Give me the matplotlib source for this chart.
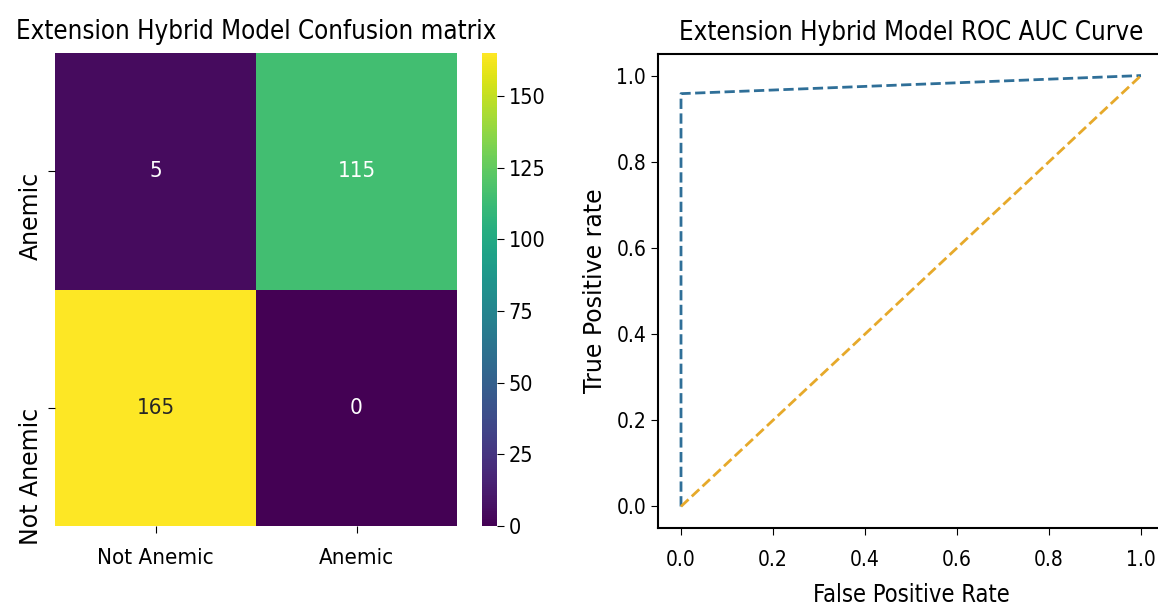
import numpy as np
import matplotlib
matplotlib.use("Agg")
import matplotlib.pyplot as plt
import seaborn as sns

# ---- data ----
class_labels = ["Not Anemic", "Anemic"]
row_labels = ["Anemic", "Not Anemic"]
cm_row_anemic = [5, 115]
cm_row_not_anemic = [165, 0]
cbar_ticks = [0, 25, 50, 75, 100, 125, 150]
fpr = [0.0, 0.0, 1.0]
tpr = [0.0, 0.958, 1.0]
diag_x = [0.0, 1.0]
diag_y = [0.0, 1.0]
axis_ticks = [0.0, 0.2, 0.4, 0.6, 0.8, 1.0]

plt.rcParams['font.family'] = ['DejaVu Sans']
plt.rcParams['font.stretch'] = 'condensed'

W, H = 1158, 616
fig = plt.figure(figsize=(W / 100, H / 100), dpi=100)

ax1 = fig.add_axes([55 / W, 90 / H, 402 / W, 473 / H])
cax = fig.add_axes([482 / W, 90 / H, 15 / W, 473 / H])
ax2 = fig.add_axes([658 / W, 88 / H, 506 / W, 474 / H])

cm = np.array([cm_row_anemic, cm_row_not_anemic])
sns.heatmap(cm, annot=True, fmt='d', cmap='viridis', ax=ax1, cbar_ax=cax,
            xticklabels=class_labels, yticklabels=row_labels,
            annot_kws={'fontsize': 16, 'fontstretch': 'condensed'})
ax1.set_title("Extension Hybrid Model Confusion matrix", fontsize=18.5, pad=10)
ax1.tick_params(axis='x', labelsize=16, length=5, pad=11)
ax1.tick_params(axis='y', length=5)
for t in ax1.get_yticklabels():
    t.set_rotation(90)
    t.set_va('top')
    t.set_fontsize(17)
    t.set_fontstretch('normal')
cax.set_yticks(cbar_ticks)
cax.tick_params(labelsize=15.5, length=5)

ax2.plot(fpr, tpr, linestyle='--', color='#2f6f98', lw=2)
ax2.plot(diag_x, diag_y, linestyle='--', color='#e6a92a', lw=2)
ax2.set_xticks(axis_ticks)
ax2.set_yticks(axis_ticks)
ax2.set_xlim(-0.05, 1.05)
ax2.set_ylim(-0.05, 1.05)
ax2.tick_params(axis='both', labelsize=15, length=5)
ax2.tick_params(axis='x', pad=11)
ax2.set_title("Extension Hybrid Model ROC AUC Curve", fontsize=18.5, pad=10)
ax2.set_xlabel("False Positive Rate", fontsize=17, labelpad=9)
ax2.set_ylabel("True Positive rate", fontsize=17, fontstretch='normal', labelpad=7)
for s in ax2.spines.values():
    s.set_linewidth(1.5)
ax2.spines['right'].set_visible(False)

fig.savefig("out.png", dpi=100)
